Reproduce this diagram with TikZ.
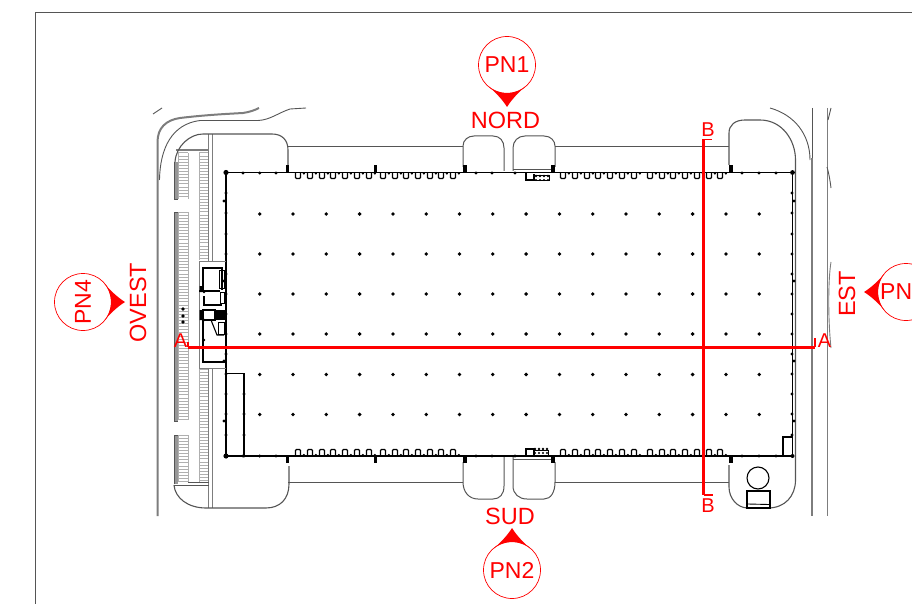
\documentclass[tikz,border=0pt]{standalone}
\usepackage{fontspec}
\setmainfont{Liberation Sans}
\definecolor{pinred}{RGB}{255,0,0}
\definecolor{sitegrey}{RGB}{85,85,85}
\definecolor{roadgrey}{RGB}{125,125,125}
\definecolor{stallgrey}{RGB}{175,175,175}
\tikzset{
  sitepath/.style={draw=sitegrey,line width=1pt},
  roadpath/.style={draw=roadgrey,line width=2pt},
  roadthin/.style={draw=sitegrey,line width=0.9pt},
  wallpath/.style={draw=black,line width=1.3pt},
  roompath/.style={draw=black,line width=1.1pt},
  stall/.style={draw=stallgrey,line width=1pt},
  stalledge/.style={draw=stallgrey,line width=0.8pt},
  redline/.style={draw=pinred,line width=2.6pt},
  redtick/.style={draw=pinred,line width=1.6pt},
  bigtxt/.style={text=pinred,font=\fontsize{23}{23}\selectfont,inner sep=0pt},
  labeltxt/.style={text=pinred,font=\fontsize{23.5}{24}\selectfont,inner sep=0pt},
  smalltxt/.style={text=pinred,font=\fontsize{20}{20}\selectfont,inner sep=0pt},
  pinring/.style={draw=pinred,line width=0.7pt,fill=white},
}
\newcommand{\pinmark}[3]{%
  \begin{scope}[shift={(#1,#2)},rotate=#3]
    \draw[pinring] (0,0) circle[radius=28.5pt];
    \fill[pinred] (-18,21.7) .. controls (-12,27) and (-5,34) .. (0,42)
       .. controls (5,34) and (12,27) .. (18,21.7)
       .. controls (7.6,30.1) and (-7.6,30.1) .. cycle;
  \end{scope}}
\newcommand{\topnotch}[1]{\draw[wallpath,line width=1.1pt,rounded corners=1pt] (#1-2.5,172.5) -- (#1-2.5,178.5) -- (#1+2.5,178.5) -- (#1+2.5,172.5);\fill (#1+5.8,173.5) circle[radius=1.2pt];}
\newcommand{\botnotch}[1]{\draw[wallpath,line width=1.1pt,rounded corners=1pt] (#1-2.5,456) -- (#1-2.5,449.5) -- (#1+2.5,449.5) -- (#1+2.5,456);\fill (#1+5.8,455) circle[radius=1.2pt];}
\begin{document}
\begin{tikzpicture}[x=1pt,y=-1pt]
\useasboundingbox (0,0) rectangle (912,604);
\clip (0,0) rectangle (912,604);
% sheet frame
\draw[draw=sitegrey,line width=1pt] (35,604) -- (35,13) -- (912,13);

% parking stalls
\foreach \ya/\yb/\n in {153/199/14,212/420/67,435/482/15}{
  \foreach \k in {0,...,\n}{\draw[stall] (178,\ya+3.1*\k) -- (188,\ya+3.1*\k);}
  \draw[stalledge] (178,\ya) -- (178,\yb) (188,\ya) -- (188,\yb);
}
\foreach \ya/\yb/\n in {153/260/34,369/482/36}{
  \foreach \k in {0,...,\n}{\draw[stall] (199,\ya+3.1*\k) -- (208,\ya+3.1*\k);}
  \draw[stalledge] (199,\ya) -- (199,\yb) (208,\ya) -- (208,\yb);
}
% stall walls
\fill[roadgrey!80] (174,162) rectangle (177.5,199);
\fill[roadgrey!80] (174,212) rectangle (177.5,421);
\fill[roadgrey!80] (174,435) rectangle (177.5,484);
\draw[sitepath] (174,162) -- (174,199) -- (177.5,199) (174,212) -- (177.5,212) (174,212) -- (174,421) -- (177.5,421) (174,435) -- (177.5,435) (174,435) -- (174,484);
% vertical spine and cross lines
\draw[sitepath,draw=roadgrey] (208.5,134) -- (208.5,261) (212,134) -- (212,261);
\draw[sitepath,draw=roadgrey] (208.5,368) -- (208.5,508) (212,368) -- (212,508);
\draw[roadpath,line width=1.6pt] (176,150) -- (208,150);
\draw[sitepath] (174,485) -- (208.5,485) (188,482) -- (208.5,482);

% site outline
\draw[sitepath,line width=1.1pt] (175,162) .. controls (176,146) and (190,134) .. (203,134) -- (272,134)
   .. controls (282,134) and (288,140) .. (288,150) -- (288,165);
\draw[sitepath] (288,146.5) -- (463,146.5);
\draw[sitepath] (463,167) -- (463,146) .. controls (463,140) and (468,136) .. (474,136) -- (493,136)
   .. controls (500,136) and (504,141) .. (504,148) -- (504,171);
\draw[sitepath] (513,171) -- (513,148) .. controls (513,141) and (518,136) .. (525,136) -- (544,136)
   .. controls (551,136) and (555,141) .. (555,146) -- (555,167);
\draw[sitepath] (513,169.5) -- (553,169.5);
\draw[sitepath] (555,146.5) -- (729,146.5);
\draw[sitepath,line width=1.1pt] (729,165) -- (729,133) .. controls (729,125) and (735,120) .. (745,120) -- (760,120)
   .. controls (782,120) and (795.5,140) .. (795.5,160) -- (795.5,480)
   .. controls (795.5,496) and (785,508) .. (768,508) -- (748,508)
   .. controls (737,508) and (729,498) .. (729,487) -- (729,465);
\draw[sitepath] (288,482) -- (463,482);
\draw[sitepath,line width=1.1pt] (289,466) -- (289,484) .. controls (289,499) and (280,508) .. (266,508) -- (206,508)
   .. controls (188,508) and (175,498) .. (174,485);
\draw[sitepath] (463,462) -- (463,482) .. controls (463,492) and (469,499) .. (478,499) -- (493,499)
   .. controls (500,499) and (504,494) .. (504,486) -- (504,456);
\draw[sitepath] (513,456) -- (513,486) .. controls (513,494) and (519,499) .. (527,499) -- (544,499)
   .. controls (551,499) and (555,492) .. (555,482) -- (555,462);
\draw[sitepath] (513,459) -- (553,459);
\draw[sitepath] (555,482) -- (729,482);

% roads
\draw[roadpath] (157.5,516) -- (157.5,142) .. controls (157.5,128) and (166,120) .. (180,118)
   .. controls (205,115) and (225,114) .. (243,113) .. controls (250,112) and (255,110) .. (259,108);
\draw[roadthin] (159.5,180) .. controls (160,148) and (172,124) .. (200,120.5) -- (258,120.5)
   .. controls (270,120) and (278,113) .. (290,109) -- (306,108);
\draw[roadthin] (153,114) -- (162,108);
\draw[roadthin] (770,108) .. controls (795,115) and (810,135) .. (810,160);
\draw[roadthin] (812,108) -- (812,160);
\draw[roadpath] (811.5,158) -- (811.5,516);
\draw[roadpath,line width=1.6pt] (827.5,108) -- (827.5,516);
\draw[roadthin] (831,108) -- (828,120) (827,167) .. controls (829,174) and (830,180) .. (831,188);
\draw[roadthin,draw=roadgrey] (831,262) .. controls (828,280) and (828,320) .. (831,348);

% building
\draw[wallpath] (226,172.5) -- (792.5,172.5) -- (792.5,456) -- (226,456) -- cycle;
\draw[wallpath,line width=1.6pt] (226,172.5) -- (226,456);
\foreach \n in {298,310,322,333,345,357,369,383,395,406,418,430,441,453,563,575,587,598,610,622,634,650,662,673,685,697,709,720}{\topnotch{\n}}
\foreach \n in {298,310,322,333,345,357,369,383,395,406,418,430,441,453,563,575,587,598,610,622,634,650,662,673,685,697,709,720}{\botnotch{\n}}
% columns
\foreach \x in {0,...,15}{\foreach \y in {214,254,294,334,374.5,414.5}{
  \fill (259.7+33.3*\x,\y) circle[radius=1.9pt];}}
% wall pillars
\foreach \x in {243,259.7,276,476,492,515,742,759,776}{
  \fill (\x,173) circle[radius=1.7pt];\fill (\x,456) circle[radius=1.7pt];}
\fill (226,172.5) circle[radius=2.6pt] (226,456) circle[radius=2.6pt] (792.5,172.5) circle[radius=2.4pt] (792.5,456) circle[radius=2pt];
\foreach \y in {193,213,234,254,274,294,314,334,354,374,394,414,435}{
  \fill (226,\y) circle[radius=1.7pt];\fill (792,\y) circle[radius=1.7pt];}
\foreach \y in {201,281,361,421}{\fill (224,\y) circle[radius=1.7pt];\fill (794,\y) circle[radius=1.7pt];}
% door blocks
\foreach \x in {287.5,375.5,465,553,731}{
  \fill (\x-1.9,165.5) rectangle (\x+1.9,172.5);
  \fill (\x-1.9,456) rectangle (\x+1.9,463);}

% north equipment
\draw[roompath] (526,172.5) -- (526,180) -- (534,180) -- (534,174);
\draw[roompath,line width=0.8pt] (534,175) rectangle (549,180);
\foreach \x in {536,540,544,548}{\fill (\x,176) circle[radius=1.3pt] (\x,180) circle[radius=1.2pt];}
% south equipment
\draw[roompath] (526,456) -- (526,449) -- (534,449) -- (534,455);
\draw[roompath,line width=0.8pt] (534,450) rectangle (548,455);
\foreach \x in {535,539,543,547}{\fill (\x,449) circle[radius=1.3pt] (\x,453) circle[radius=1.2pt];}

% west offices
\draw[sitepath,draw=roadgrey] (199,261) -- (199,368) -- (226,368) (199,261) -- (226,261);
\draw[roompath] (203,291) -- (203,268) -- (222,268) -- (222,290);
\draw[roompath] (199,291) -- (220,291) (204,296) -- (204,305) -- (222,305);
\draw[roompath] (203,310) -- (215,310) -- (215,320) -- (203,320) -- cycle;
\draw[roompath] (203,320) -- (203,362) -- (226,362);
\draw[roompath] (211,320) -- (217,335) -- (224,335);
\draw[roompath,line width=0.8pt] (219,270) rectangle (224,288) (220,292) rectangle (224,303);
\fill (216,310) rectangle (225,320);
\draw[roompath,line width=0.9pt] (218,322) rectangle (224,334);
\fill (199.5,286) rectangle (202,292) (199.5,310) rectangle (202,320) (204,340) circle[radius=1.4pt] (204,320) circle[radius=1.4pt] (204,292) circle[radius=1.4pt];
% cars
\foreach \y in {309,316,322}{\fill (183,\y) circle[radius=1.8pt];}

% SE store
\draw[wallpath] (226,373.5) -- (244,373.5) -- (244,456);
\foreach \y in {394,414,435,456}{\fill (244,\y) circle[radius=1.7pt];}
% SE corner room
\draw[roompath] (783,456) -- (783,437) -- (792,437);
% tank and pump house
\draw[roompath] (758,478) circle[radius=11pt];
\draw[roompath] (747,491) rectangle (770,508);
\draw[roompath,line width=0.9pt] (748,504) -- (769,504.5);

% section lines
\coordinate (aL) at (188,347.4);
\coordinate (aR) at (815,347.4);
\coordinate (bT) at (703.5,139.5);
\coordinate (bB) at (703.5,495);
\draw[redline,line width=3.1pt] (aL) -- (aR);
\draw[redline] (bT) -- (bB);
\draw[redtick] (aL) -- ++(0,-5) (aR) -- ++(0,-9);
\draw[redtick] (bT) -- ++(8,0) (bB) -- ++(9,0);
\node[smalltxt] (la) at (180.5,341) {A};
\node[smalltxt] (ra) at (824.5,341) {A};
\node[smalltxt] (tb) at (708,129.5) {B};
\node[smalltxt] (bb) at (708,506) {B};

% view markers
\pinmark{507}{65}{0}
\pinmark{512}{570}{180}
\pinmark{83}{302}{90}
\pinmark{906}{292}{-90}
\node[bigtxt] (pn1) at (507,65) {PN1};
\node[bigtxt] (pn2) at (512,570) {PN2};
\node[bigtxt,rotate=90] (pn4) at (83,302) {PN4};
\node[bigtxt,anchor=west] (pn3) at (880,292) {PN};
\node[labeltxt] (nord) at (505.5,120.7) {NORD};
\node[labeltxt] (sud) at (510,516) {SUD};
\node[labeltxt,rotate=90] (ovest) at (138,302.5) {OVEST};
\node[labeltxt,rotate=90] (est) at (847,294) {EST};
\end{tikzpicture}
\end{document}
